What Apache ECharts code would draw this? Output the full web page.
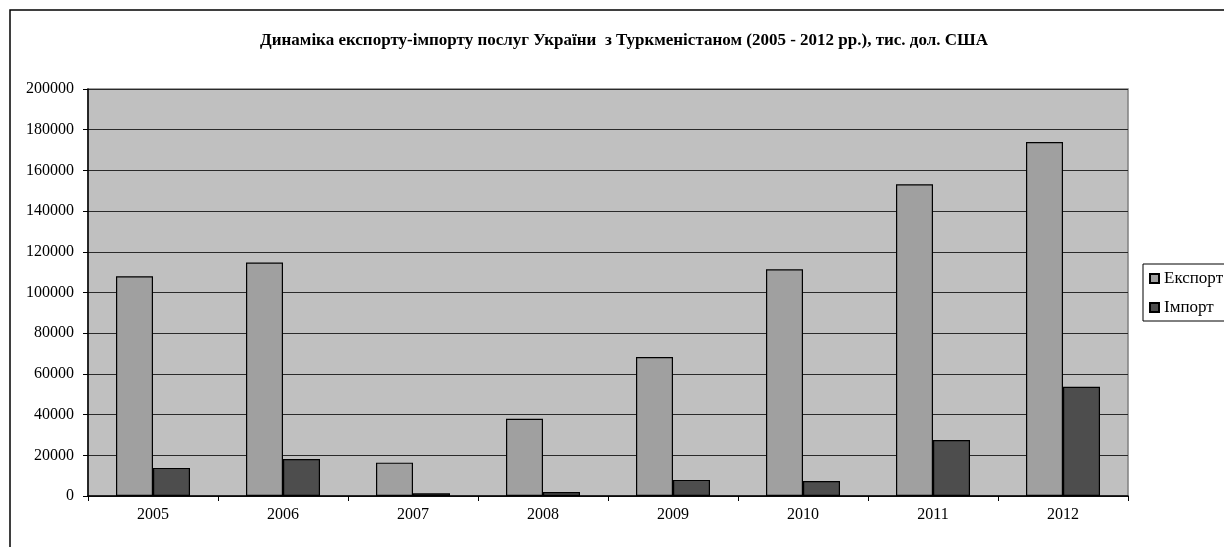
<!DOCTYPE html>
<html>
<head>
<meta charset="utf-8">
<script src="https://cdn.jsdelivr.net/npm/echarts@6/dist/echarts.min.js"></script>
<style>
  html, body { margin: 0; padding: 0; background: #fff; }
  #main { width: 1224px; height: 547px; }
</style>
</head>
<body>
<div id="main"></div>
<script>
// дані
var years = ['2005', '2006', '2007', '2008', '2009', '2010', '2011', '2012'];
var exportData = [108000, 114700, 16400, 37900, 68300, 111400, 153200, 173900];
var importData = [13800, 18200, 1300, 2000, 7900, 7400, 27500, 53700];
var yTicks = [0, 200000, 20000]; // min, max, interval

var serif = "'Liberation Serif', 'DejaVu Serif', serif";

var myChart = echarts.init(document.getElementById('main'));

var option = {
  backgroundColor: '#fff',
  animation: false,
  title: {
    text: 'Динаміка експорту-імпорту послуг України  з Туркменістаном (2005 - 2012 рр.), тис. дол. США',
    left: 619,
    textAlign: 'center',
    top: 27,
    textStyle: {
      fontFamily: serif,
      fontSize: 17,
      fontWeight: 'bold',
      color: '#000'
    }
  },
  graphic: [
    {
      type: 'rect',
      shape: { x: 10, y: 10, width: 1400, height: 700 },
      style: { fill: 'none', stroke: '#000', lineWidth: 1.5 },
      silent: true
    }
  ],
  legend: {
    orient: 'vertical',
    left: 1143,
    top: 264,
    padding: [6, 6, 5, 6],
    itemGap: 12,
    itemWidth: 9,
    itemHeight: 9,
    icon: 'rect',
    borderColor: '#000',
    borderWidth: 1,
    backgroundColor: '#fff',
    textStyle: {
      fontFamily: serif,
      fontSize: 17,
      color: '#000'
    },
    data: ['Експорт', 'Імпорт']
  },
  grid: {
    left: 88,
    top: 89,
    right: 96,
    bottom: 51,
    show: true,
    backgroundColor: '#C0C0C0',
    borderColor: '#808080',
    borderWidth: 1.5
  },
  xAxis: {
    type: 'category',
    data: years,
    axisLine: { lineStyle: { color: '#000', width: 1.5 } },
    axisTick: { show: true, length: 5, lineStyle: { color: '#000' } },
    axisLabel: {
      margin: 11,
      fontFamily: serif,
      fontSize: 16,
      color: '#000'
    }
  },
  yAxis: {
    type: 'value',
    min: yTicks[0],
    max: yTicks[1],
    interval: yTicks[2],
    axisLine: { show: true, lineStyle: { color: '#000', width: 1.5 } },
    axisTick: { show: true, length: 5, lineStyle: { color: '#000' } },
    axisLabel: {
      margin: 14,
      fontFamily: serif,
      fontSize: 16,
      color: '#000',
      formatter: function (v) { return String(v); }
    },
    splitLine: {
      show: true,
      lineStyle: { color: '#2a2a2a', width: 1.2 }
    }
  },
  series: [
    {
      name: 'Експорт',
      type: 'bar',
      barWidth: 37,
      barGap: '0%',
      data: exportData,
      itemStyle: { color: '#A0A0A0', borderColor: '#000', borderWidth: 1.2 }
    },
    {
      name: 'Імпорт',
      type: 'bar',
      barWidth: 37,
      barGap: '0%',
      data: importData,
      itemStyle: { color: '#4D4D4D', borderColor: '#000', borderWidth: 1.2 }
    }
  ]
};

myChart.setOption(option);
</script>
</body>
</html>
